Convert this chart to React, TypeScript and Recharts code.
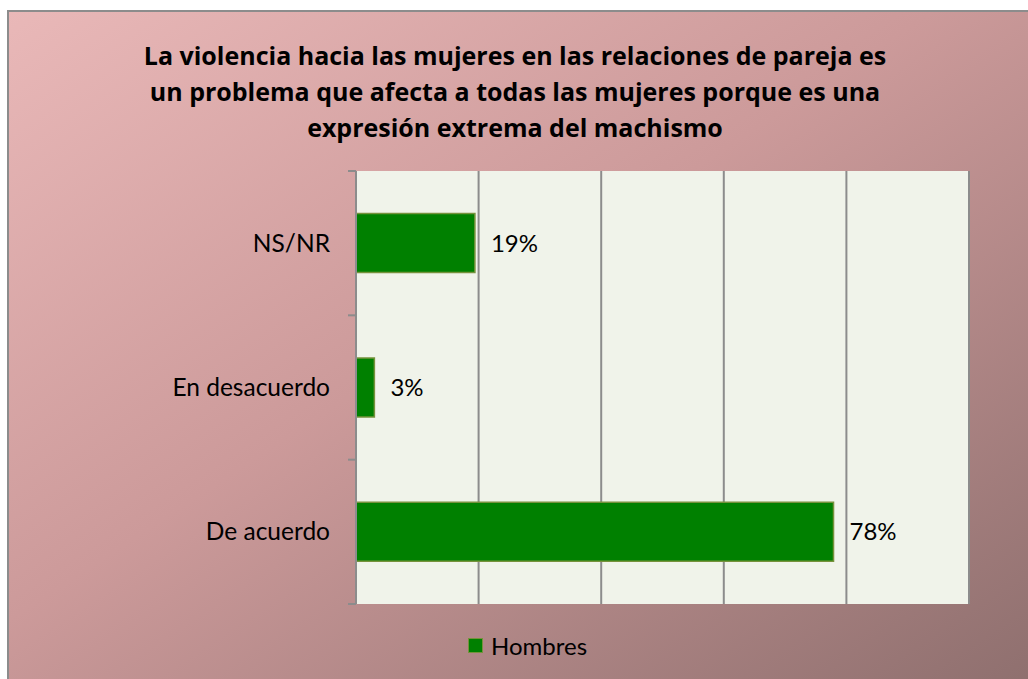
import React from "react";
import { BarChart, Bar, XAxis, YAxis, CartesianGrid, LabelList, Legend } from "recharts";

// top to bottom, as in the picture
const CATEGORIES = ["NS/NR", "En desacuerdo", "De acuerdo"];
const HOMBRES = [19.4, 3.0, 77.9];
const VALUE_LABELS = ["19%", "3%", "78%"];
const X_TICKS = [0, 20, 40, 60, 80, 100];
const TITLE_LINES = [
  "La violencia hacia las mujeres en las relaciones de pareja es",
  "un problema que afecta a todas las mujeres porque es una",
  "expresión extrema del machismo",
];

const FONT = "Lato, 'Noto Sans', sans-serif";
const TITLE_FONT = "'Open Sans', 'Noto Sans', sans-serif";
const CHART_W = 1019;
const CHART_H = 667;
const MARGIN = { top: 159, right: 59, bottom: 75, left: 0 };
const Y_AXIS_W = 347;
const TICK_MARGIN = 26;
const GRID = "#8c8c8c";

const data = CATEGORIES.map((name, i) => ({
  name,
  hombres: HOMBRES[i],
  label: VALUE_LABELS[i],
}));

function CategoryTick(props: any) {
  const { x, y, payload, index } = props;
  const axisX = x + TICK_MARGIN;
  const plotH = CHART_H - MARGIN.top - MARGIN.bottom;
  const half = plotH / CATEGORIES.length / 2;
  const last = index === CATEGORIES.length - 1;
  return (
    <g>
      <text x={x} y={y} dy={8.5} textAnchor="end" fontSize={24.5} fill="#000" fontFamily={FONT}>
        {payload.value}
      </text>
      <line x1={axisX - 8} x2={axisX} y1={y - half} y2={y - half} stroke={GRID} strokeWidth={2} />
      {last && (
        <line x1={axisX - 8} x2={axisX} y1={y + half} y2={y + half} stroke={GRID} strokeWidth={2} />
      )}
    </g>
  );
}

function LegendContent() {
  return (
    <div
      style={{
        display: "flex",
        justifyContent: "center",
        alignItems: "center",
        height: 26,
        paddingLeft: 18,
        fontFamily: FONT,
        fontSize: 24,
        color: "#000",
      }}
    >
      <span
        style={{
          width: 13,
          height: 13,
          background: "#008000",
          border: "1.5px solid #76923c",
          marginRight: 8,
          display: "inline-block",
        }}
      />
      Hombres
    </div>
  );
}

export default function App() {
  return (
    <div
      style={{
        position: "absolute",
        left: 7,
        top: 10,
        width: 1030,
        height: 680,
        boxSizing: "border-box",
        border: `2px solid ${GRID}`,
        background: "linear-gradient(to bottom right, #e9b8b8 0%, #cc9a9a 45%, #8e6f6e 100%)",
        overflow: "hidden",
        fontFamily: FONT,
      }}
    >
      <div
        style={{
          position: "absolute",
          left: 0,
          top: 25,
          width: 1012,
          textAlign: "center",
          fontWeight: 700,
          fontSize: 25,
          lineHeight: "36px",
          color: "#000",
          fontFamily: TITLE_FONT,
        }}
      >
        {TITLE_LINES.map((l) => (
          <div key={l}>{l}</div>
        ))}
      </div>
      <BarChart
        width={CHART_W}
        height={CHART_H}
        data={data}
        layout="vertical"
        margin={MARGIN}
        barCategoryGap="29.5%"
      >
        <CartesianGrid
          horizontal={false}
          stroke={GRID}
          strokeWidth={2}
          fill="#f0f3ea"
          fillOpacity={1}
          verticalCoordinatesGenerator={({ offset }: any) =>
            X_TICKS.map((t) => offset.left + (offset.width * t) / 100)
          }
        />
        <XAxis
          type="number"
          domain={[0, 100]}
          ticks={X_TICKS}
          axisLine={false}
          tickLine={false}
          tick={false}
          height={0}
        />
        <YAxis
          type="category"
          dataKey="name"
          width={Y_AXIS_W}
          axisLine={{ stroke: GRID, strokeWidth: 2 }}
          tickLine={false}
          tickSize={0}
          tickMargin={TICK_MARGIN}
          tick={<CategoryTick />}
          interval={0}
        />
        <Legend
          layout="horizontal"
          verticalAlign="middle"
          align="center"
          wrapperStyle={{ top: 620, left: 0, width: CHART_W }}
          content={<LegendContent />}
        />
        <Bar
          dataKey="hombres"
          name="Hombres"
          fill="#008000"
          stroke="#76923c"
          strokeWidth={1.5}
          isAnimationActive={false}
        >
          <LabelList
            dataKey="label"
            position="right"
            offset={16}
            fontSize={24}
            fill="#000"
            fontFamily={FONT}
          />
        </Bar>
      </BarChart>
    </div>
  );
}
